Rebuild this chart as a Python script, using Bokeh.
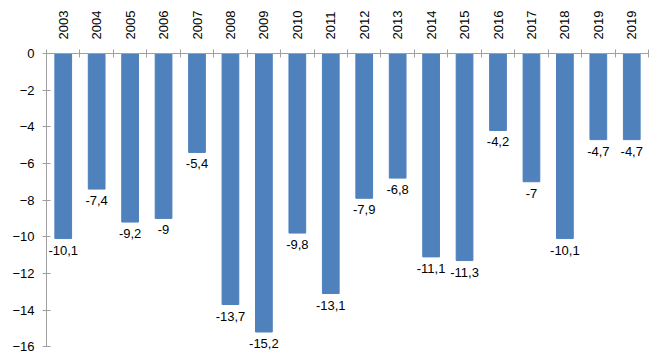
import numpy as np
from bokeh.plotting import figure
from bokeh.models import ColumnDataSource, FixedTicker, LabelSet, Range1d
from bokeh.core.properties import value
from bokeh.embed import file_html
from bokeh.resources import INLINE

years = ["2003", "2004", "2005", "2006", "2007", "2008", "2009", "2010", "2011",
         "2012", "2013", "2014", "2015", "2016", "2017", "2018", "2019", "2019"]
values = [-10.1, -7.4, -9.2, -9.0, -5.4, -13.7, -15.2, -9.8, -13.1,
          -7.9, -6.8, -11.1, -11.3, -4.2, -7.0, -10.1, -4.7, -4.7]
labels = ["-10,1", "-7,4", "-9,2", "-9", "-5,4", "-13,7", "-15,2", "-9,8", "-13,1",
          "-7,9", "-6,8", "-11,1", "-11,3", "-4,2", "-7", "-10,1", "-4,7", "-4,7"]
y_ticks = [0, -2, -4, -6, -8, -10, -12, -14, -16]

n = len(years)
centers = [i + 0.5 for i in range(n)]
bounds = list(range(n + 1))

src = ColumnDataSource(dict(x=centers, top=values, lab=labels))

p = figure(width=652, height=360, output_backend="svg", toolbar_location=None,
           x_range=Range1d(0, n), y_range=Range1d(-16.7, 0),
           x_axis_location="above",
           min_border_left=46, min_border_right=4, min_border_top=53,
           min_border_bottom=1)
p.outline_line_color = None
p.grid.visible = False
p.background_fill_color = "white"

p.vbar(x="x", top="top", bottom=0, width=0.5, source=src,
       fill_color="#4F81BD", line_color="#4F81BD")

p.add_layout(LabelSet(x="x", y="top", text="lab", source=src,
                      text_align="center", text_baseline="top", y_offset=-7,
                      text_font=value("Liberation Sans"), text_font_size=value("13px"),
                      text_color="black"))

xa = p.xaxis[0]
xa.ticker = FixedTicker(ticks=centers, minor_ticks=bounds)
xa.major_label_overrides = {c: y for c, y in zip(centers, years)}
xa.major_label_orientation = np.pi / 2
xa.major_tick_in = 0
xa.major_tick_out = 0
xa.minor_tick_in = 4
xa.minor_tick_out = 4
xa.minor_tick_line_color = "#A0A0A0"
xa.axis_line_color = "#A0A0A0"
xa.major_label_text_font = "Liberation Sans"
xa.major_label_text_font_size = "13px"
xa.major_label_text_color = "black"
xa.major_label_standoff = 10

ya = p.yaxis[0]
ya.ticker = FixedTicker(ticks=y_ticks, minor_ticks=[])
ya.bounds = (-16, 0)
ya.major_tick_in = 4
ya.major_tick_out = 4
ya.major_tick_line_color = "#A0A0A0"
ya.axis_line_color = "#A0A0A0"
ya.major_label_text_font = "Liberation Sans"
ya.major_label_text_font_size = "13px"
ya.major_label_text_color = "black"
ya.major_label_standoff = 8

open("out.html", "w").write(file_html(p, INLINE))
